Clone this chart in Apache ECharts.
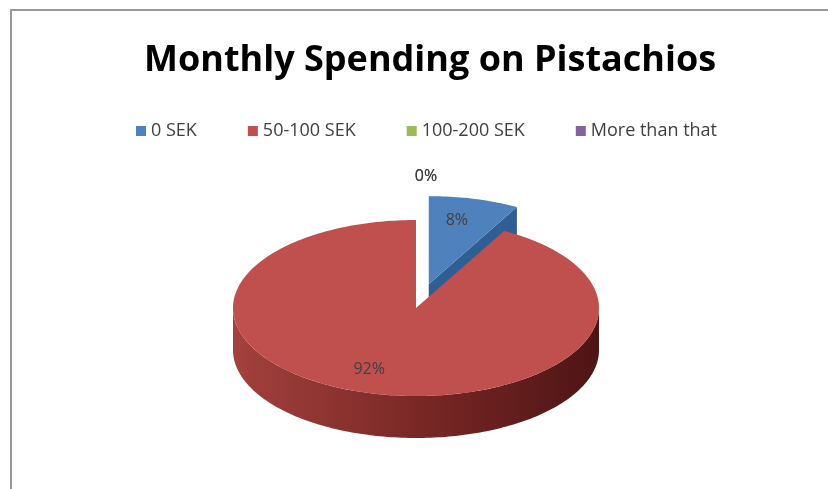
<!DOCTYPE html>
<html><head><meta charset="utf-8">
<script src="https://cdn.jsdelivr.net/npm/echarts@6/dist/echarts.min.js"></script>
<style>html,body{margin:0;padding:0;background:#fff}#c{width:828px;height:489px}</style>
</head><body><div id="c"></div>
<script>
const categories = ['0 SEK', '50-100 SEK', '100-200 SEK', 'More than that'];
const values = [8, 92, 0, 0];
const colors = ['#4f81bd', '#c0504d', '#9bbb59', '#8064a2'];
const sideColors = [['#2f5e95', '#2f5e95', '#27507f'], ['#a3413d', '#7a2826', '#4e1515'], ['#6f8a3c', '#6f8a3c', '#5a7030'], ['#5b4478', '#5b4478', '#4a3762']];
const exploded = [1, 0, 0, 0];

const total = values.reduce((a, b) => a + b, 0);
const G = { cx: 416, cy: 308, rx: 183, ry: 88, depth: 42, explode: 0.28 };
const starts = [];
let acc = 0;
values.forEach(v => { starts.push(acc / total * Math.PI * 2); acc += v; });

function pt(th, f, ox, oy, dz) {
  return [G.cx + ox + f * G.rx * Math.sin(th), G.cy + oy - f * G.ry * Math.cos(th) + dz];
}
function arc(a0, a1, ox, oy, dz) {
  const pts = [];
  const n = Math.max(2, Math.ceil((a1 - a0) / 0.02));
  for (let i = 0; i <= n; i++) pts.push(pt(a0 + (a1 - a0) * i / n, 1, ox, oy, dz));
  return pts;
}

function makeRender(idx) {
  return function (params, api) {
    const v = api.value(0);
    const a0 = starts[idx];
    const a1 = a0 + v / total * Math.PI * 2;
    const mid = (a0 + a1) / 2;
    const e = exploded[idx] ? G.explode : 0;
    const ox = e * G.rx * Math.sin(mid), oy = -e * G.ry * Math.cos(mid);
    const children = [];
    const pct = Math.round(v / total * 100) + '%';
    const labelStyle = { text: pct, fill: '#404040', font: '16px "Open Sans"', align: 'center', verticalAlign: 'middle' };
    if (v <= 0) {
      const p = pt(a0, 1.5, ox, oy, 0);
      children.push({ type: 'text', style: Object.assign({ x: p[0] + 10, y: p[1] }, labelStyle) });
      return { type: 'group', children };
    }
    const c0 = [G.cx + ox, G.cy + oy];
    const D = G.depth;
    const sc = sideColors[idx];
    const grad = { type: 'linear', x: 0, y: 0, x2: 1, y2: 0, colorStops: [
      { offset: 0, color: sc[0] }, { offset: 0.5, color: sc[1] }, { offset: 1, color: sc[2] }] };
    if (Math.sin(a0) < -1e-6) {
      const e0 = pt(a0, 1, ox, oy, 0);
      children.push({ type: 'polygon', shape: { points: [c0, e0, [e0[0], e0[1] + D], [c0[0], c0[1] + D]] }, style: { fill: sc[1] } });
    }
    if (Math.sin(a1) > 1e-6) {
      const e1 = pt(a1, 1, ox, oy, 0);
      children.push({ type: 'polygon', shape: { points: [c0, e1, [e1[0], e1[1] + D], [c0[0], c0[1] + D]] }, style: { fill: sc[1] } });
    }
    const s = Math.max(a0, Math.PI / 2), t = Math.min(a1, Math.PI * 1.5);
    if (t > s) {
      const top = arc(s, t, ox, oy, 0);
      const bot = arc(s, t, ox, oy, D).reverse();
      children.push({ type: 'polygon', shape: { points: top.concat(bot) }, style: { fill: grad } });
    }
    children.push({ type: 'polygon', shape: { points: [c0].concat(arc(a0, a1, ox, oy, 0)) }, style: { fill: colors[idx] } });
    const f = exploded[idx] ? 0.75 : 0.72;
    const lp = pt(mid, f, ox, oy, 0);
    children.push({ type: 'text', style: Object.assign({ x: lp[0] - (exploded[idx] ? 6 : 14), y: lp[1] }, labelStyle) });
    return { type: 'group', children };
  };
}

const zOrder = [1, 2, 3, 3];
const chart = echarts.init(document.getElementById('c'), null, { renderer: 'canvas' });
chart.setOption({
  animation: false,
  backgroundColor: '#fff',
  title: { text: 'Monthly Spending on Pistachios', left: 139, top: 38,
    textStyle: { fontFamily: 'Open Sans', fontWeight: 'bold', fontSize: 36, color: '#000' } },
  legend: { top: 117, left: 131, icon: 'rect', itemWidth: 10, itemHeight: 10, itemGap: 51,
    textStyle: { fontFamily: 'Open Sans', fontSize: 18, color: '#404040' }, data: categories },
  graphic: [
    { type: 'line', shape: { x1: 10, y1: 10, x2: 828, y2: 10 }, style: { stroke: '#999', lineWidth: 2 } },
    { type: 'line', shape: { x1: 11, y1: 10, x2: 11, y2: 489 }, style: { stroke: '#999', lineWidth: 2 } }
  ],
  series: categories.map((name, i) => ({
    type: 'custom', name, coordinateSystem: 'none', z: zOrder[i],
    itemStyle: { color: colors[i] }, renderItem: makeRender(i), data: [values[i]]
  }))
});
</script></body></html>
